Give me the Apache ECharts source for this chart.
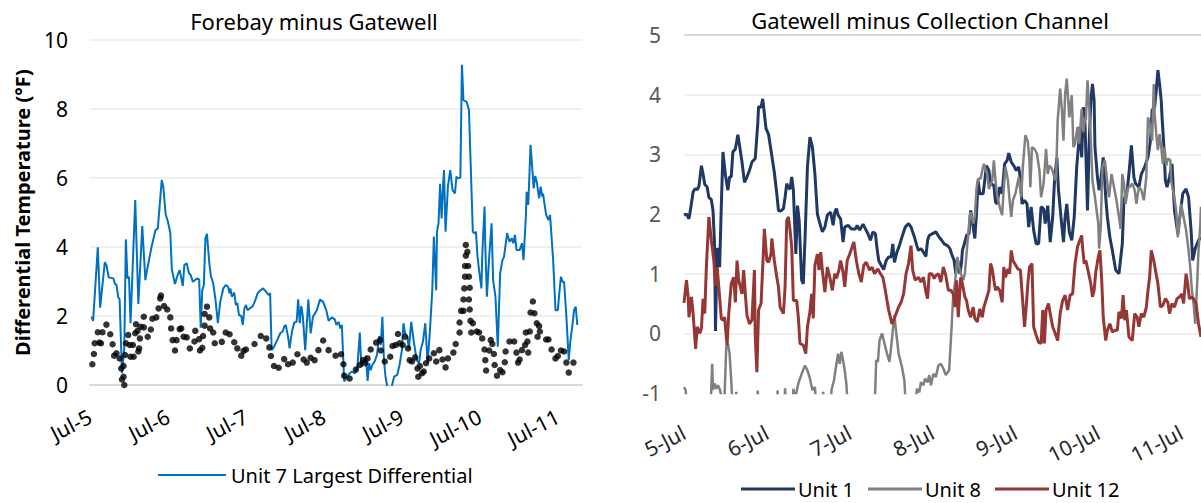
<!DOCTYPE html>
<html><head><meta charset="utf-8">
<script src="https://cdn.jsdelivr.net/npm/echarts@6/dist/echarts.min.js"></script>
<style>html,body{margin:0;padding:0;background:#fff}#c{width:1201px;height:503px}</style>
</head><body><div id="c"></div>
<script>
// ---- data (x = days since Jul-5 00:00, y = differential temperature °F) ----
const leftTickLabels = ['Jul-5','Jul-6','Jul-7','Jul-8','Jul-9','Jul-10','Jul-11'];
const rightTickLabels = ['5-Jul','6-Jul','7-Jul','8-Jul','9-Jul','10-Jul','11-Jul'];
const leftYTicks = [0, 2, 4, 6, 8, 10];
const rightYTicks = [-1, 0, 1, 2, 3, 4, 5];

const unit7Largest = [[0.02,1.98],[0.04,1.86],[0.10,3.99],[0.13,2.24],[0.19,3.56],[0.21,3.48],[0.24,3.12],[0.30,3.09],[0.32,2.93],[0.34,2.90],[0.36,2.56],[0.38,2.48],[0.41,0.34],[0.44,1.11],[0.46,4.22],[0.48,3.09],[0.50,3.14],[0.52,1.79],[0.58,5.36],[0.62,2.35],[0.67,4.61],[0.71,3.04],[0.73,3.31],[0.79,4.01],[0.84,4.49],[0.87,4.54],[0.92,5.94],[0.94,5.75],[0.97,4.95],[1.00,4.73],[1.03,4.40],[1.05,3.35],[1.09,2.93],[1.12,3.16],[1.15,3.33],[1.19,2.87],[1.21,3.48],[1.24,3.53],[1.27,3.24],[1.29,3.19],[1.32,2.99],[1.37,3.09],[1.40,3.06],[1.42,1.66],[1.44,2.75],[1.46,2.90],[1.48,4.25],[1.50,4.38],[1.53,3.53],[1.55,3.16],[1.58,2.95],[1.61,2.46],[1.64,1.79],[1.67,2.41],[1.71,2.80],[1.74,2.90],[1.77,2.85],[1.79,2.66],[1.80,2.80],[1.82,2.56],[1.85,2.68],[1.87,2.32],[1.89,2.37],[1.91,2.03],[1.94,2.00],[1.96,1.74],[1.98,2.22],[2.00,2.32],[2.02,2.17],[2.05,2.22],[2.09,2.29],[2.12,2.46],[2.15,2.66],[2.18,2.73],[2.22,2.80],[2.26,2.70],[2.29,2.61],[2.31,2.66],[2.33,1.01],[2.36,1.11],[2.40,1.30],[2.44,1.50],[2.47,1.55],[2.49,1.69],[2.51,1.74],[2.54,1.40],[2.56,1.06],[2.59,1.55],[2.62,1.81],[2.65,1.83],[2.67,2.48],[2.69,1.79],[2.71,2.29],[2.73,1.98],[2.76,1.01],[2.80,2.48],[2.83,1.50],[2.86,1.98],[2.91,2.17],[2.95,2.48],[2.99,2.41],[3.03,2.17],[3.06,1.86],[3.10,1.96],[3.14,1.90],[3.16,1.74],[3.19,1.83],[3.21,1.64],[3.23,1.74],[3.26,0.10],[3.30,0.24],[3.33,0.34],[3.36,0.39],[3.40,0.34],[3.43,0.53],[3.46,1.52],[3.48,0.53],[3.51,0.72],[3.54,0.84],[3.56,0.12],[3.58,0.63],[3.60,0.43],[3.62,0.58],[3.65,0.68],[3.68,0.87],[3.71,1.42],[3.73,1.16],[3.75,1.98],[3.77,0.72],[3.79,0.24],[3.82,-0.14],[3.86,-0.14],[3.90,0.24],[3.94,0.29],[3.97,0.58],[4.00,1.01],[4.02,1.79],[4.04,1.50],[4.07,1.40],[4.09,1.06],[4.12,1.83],[4.15,1.30],[4.19,0.72],[4.22,0.63],[4.24,1.01],[4.27,1.26],[4.30,1.79],[4.33,0.63],[4.36,1.59],[4.39,2.75],[4.41,4.30],[4.44,2.75],[4.45,4.44],[4.47,4.69],[4.49,5.83],[4.51,4.83],[4.53,5.85],[4.54,6.23],[4.56,4.44],[4.59,5.75],[4.62,6.23],[4.65,5.65],[4.68,5.55],[4.70,6.04],[4.72,5.99],[4.75,6.01],[4.77,9.28],[4.79,8.26],[4.83,8.21],[4.86,7.97],[4.91,4.44],[4.93,4.40],[4.95,4.44],[4.97,3.72],[4.99,3.33],[5.02,2.80],[5.03,3.72],[5.06,5.17],[5.07,4.01],[5.09,2.56],[5.12,3.72],[5.15,4.69],[5.17,3.04],[5.20,2.56],[5.23,1.11],[5.26,3.24],[5.29,3.62],[5.31,3.72],[5.35,4.40],[5.38,4.15],[5.41,4.25],[5.43,4.11],[5.45,4.35],[5.47,3.91],[5.51,3.91],[5.54,4.11],[5.56,3.62],[5.59,4.88],[5.60,5.60],[5.62,5.22],[5.63,5.75],[5.65,6.96],[5.68,6.04],[5.69,5.70],[5.71,6.06],[5.73,5.89],[5.76,5.41],[5.78,5.75],[5.80,5.46],[5.81,5.55],[5.85,4.93],[5.88,4.78],[5.90,4.93],[5.94,3.62],[5.97,2.17],[6.00,2.17],[6.02,2.70],[6.04,3.14],[6.06,2.99],[6.08,2.99],[6.11,1.98],[6.14,0.72],[6.16,1.26],[6.19,1.79],[6.21,2.19],[6.23,2.27],[6.25,1.74]];

const otherUnitsDots = [[0.03,0.60],[0.05,0.90],[0.06,1.21],[0.10,1.53],[0.12,1.23],[0.14,1.21],[0.16,1.53],[0.21,1.75],[0.26,1.47],[0.29,1.18],[0.31,0.85],[0.34,0.92],[0.38,0.77],[0.40,0.48],[0.41,0.16],[0.43,0.24],[0.43,0.55],[0.44,0.0],[0.45,0.87],[0.46,1.21],[0.49,1.45],[0.51,1.16],[0.52,0.82],[0.55,1.16],[0.56,0.82],[0.58,1.50],[0.59,1.76],[0.61,1.57],[0.62,0.97],[0.63,1.06],[0.64,1.35],[0.65,1.69],[0.69,1.67],[0.69,1.98],[0.74,1.40],[0.78,1.61],[0.80,1.92],[0.85,1.96],[0.88,2.22],[0.90,2.51],[0.91,2.59],[0.95,2.29],[0.99,2.19],[1.03,1.96],[1.04,1.64],[1.06,1.30],[1.09,1.00],[1.11,1.30],[1.15,1.62],[1.17,1.64],[1.20,1.40],[1.24,1.38],[1.28,1.06],[1.34,1.26],[1.35,1.57],[1.40,1.33],[1.41,1.00],[1.44,1.08],[1.45,1.42],[1.47,1.72],[1.47,2.06],[1.50,2.27],[1.53,1.96],[1.54,1.64],[1.58,1.52],[1.60,1.21],[1.69,1.25],[1.74,1.52],[1.79,1.47],[1.85,1.24],[1.89,1.06],[1.94,0.85],[1.97,0.99],[2.00,1.03],[2.11,1.19],[2.19,1.42],[2.26,1.35],[2.30,1.09],[2.32,0.84],[2.36,0.55],[2.42,0.50],[2.49,0.75],[2.54,0.60],[2.60,0.65],[2.66,0.89],[2.74,0.74],[2.78,0.65],[2.83,0.79],[2.88,0.72],[2.93,1.01],[2.99,1.29],[3.06,1.01],[3.15,0.85],[3.22,0.89],[3.25,0.60],[3.26,0.27],[3.33,0.19],[3.41,0.45],[3.46,0.58],[3.50,0.72],[3.53,0.63],[3.56,0.77],[3.60,1.03],[3.67,1.23],[3.72,1.30],[3.73,1.00],[3.78,0.68],[3.85,0.82],[3.88,1.13],[3.92,1.16],[3.95,1.48],[3.97,1.21],[4.01,1.16],[4.04,1.40],[4.08,1.06],[4.10,0.72],[4.13,0.68],[4.17,0.80],[4.20,0.48],[4.21,0.24],[4.23,0.55],[4.26,0.34],[4.28,0.39],[4.31,0.63],[4.35,0.77],[4.41,0.92],[4.44,0.68],[4.48,1.01],[4.52,0.74],[4.56,0.51],[4.59,0.77],[4.66,0.94],[4.69,1.19],[4.74,1.52],[4.74,1.81],[4.76,2.15],[4.79,2.15],[4.79,2.48],[4.80,2.80],[4.81,3.14],[4.81,3.45],[4.82,3.75],[4.82,4.06],[4.84,3.86],[4.85,3.45],[4.86,3.14],[4.87,2.82],[4.86,2.48],[4.87,2.19],[4.88,1.86],[4.89,1.52],[4.91,1.79],[4.96,1.55],[4.99,1.52],[5.03,1.35],[5.06,1.03],[5.07,0.72],[5.08,0.42],[5.12,1.00],[5.14,1.30],[5.16,1.19],[5.18,0.90],[5.19,0.58],[5.22,0.27],[5.26,0.43],[5.29,0.37],[5.32,0.66],[5.33,0.97],[5.38,1.26],[5.44,1.26],[5.47,0.94],[5.49,0.65],[5.51,0.74],[5.54,1.01],[5.58,1.16],[5.59,1.52],[5.61,1.26],[5.62,0.94],[5.64,1.55],[5.65,2.10],[5.68,2.42],[5.70,2.08],[5.73,1.79],[5.74,1.40],[5.76,1.71],[5.77,1.55],[5.85,1.32],[5.88,1.32],[5.92,1.03],[5.97,0.77],[6.00,0.84],[6.04,1.00],[6.08,0.97],[6.11,0.65],[6.14,0.36],[6.20,0.65]];

const unit1 = [[0,1.98],[0.03,2.0],[0.06,1.92],[0.08,2.09],[0.11,2.37],[0.13,2.42],[0.16,2.41],[0.18,2.46],[0.21,2.81],[0.23,2.67],[0.25,2.50],[0.28,2.45],[0.30,2.28],[0.33,2.24],[0.35,2.06],[0.37,1.45],[0.38,0.04],[0.40,1.42],[0.42,1.39],[0.43,1.11],[0.45,2.12],[0.47,3.04],[0.50,2.65],[0.53,2.40],[0.55,2.62],[0.57,2.62],[0.59,3.04],[0.62,3.09],[0.65,3.33],[0.67,3.15],[0.70,2.87],[0.73,2.53],[0.76,2.62],[0.79,2.73],[0.82,2.87],[0.86,2.93],[0.89,3.51],[0.90,3.80],[0.93,3.79],[0.95,3.93],[0.97,3.68],[0.99,3.43],[1.02,3.34],[1.05,3.07],[1.09,2.70],[1.12,2.34],[1.14,2.06],[1.17,2.05],[1.20,2.09],[1.22,2.28],[1.24,2.51],[1.26,2.44],[1.28,2.42],[1.30,2.62],[1.32,2.40],[1.35,1.33],[1.37,2.14],[1.39,1.89],[1.42,0.89],[1.44,0.83],[1.46,1.56],[1.49,2.79],[1.52,3.29],[1.55,3.12],[1.58,2.67],[1.61,2.00],[1.64,1.84],[1.67,1.70],[1.70,1.78],[1.73,1.98],[1.77,2.03],[1.80,1.81],[1.82,2.03],[1.84,2.09],[1.86,1.98],[1.89,1.92],[1.92,1.53],[1.94,1.78],[1.98,1.81],[2.02,1.75],[2.07,1.75],[2.09,1.81],[2.12,1.73],[2.16,1.83],[2.19,1.75],[2.22,1.67],[2.25,1.56],[2.28,1.70],[2.31,1.67],[2.33,1.42],[2.35,1.22],[2.38,1.14],[2.41,1.07],[2.44,1.22],[2.47,1.28],[2.50,1.28],[2.52,1.50],[2.54,1.19],[2.57,1.36],[2.60,1.47],[2.63,1.61],[2.67,1.78],[2.71,1.84],[2.74,1.78],[2.78,1.62],[2.81,1.47],[2.83,1.39],[2.86,1.42],[2.89,1.36],[2.92,1.29],[2.94,1.56],[2.96,1.64],[3.00,1.67],[3.04,1.70],[3.08,1.61],[3.11,1.56],[3.14,1.50],[3.18,1.47],[3.21,1.42],[3.23,1.33],[3.26,1.22],[3.28,1.00],[3.30,1.25],[3.33,1.00],[3.35,1.19],[3.36,1.39],[3.39,1.53],[3.41,1.64],[3.44,1.67],[3.46,2.06],[3.48,1.89],[3.49,1.78],[3.51,1.59],[3.53,2.00],[3.55,2.56],[3.57,2.34],[3.61,2.34],[3.63,2.56],[3.65,2.81],[3.68,2.73],[3.70,2.51],[3.74,2.48],[3.76,2.20],[3.78,2.17],[3.81,2.45],[3.84,2.34],[3.87,2.84],[3.90,2.90],[3.92,3.02],[3.95,2.87],[3.98,2.81],[4.01,2.73],[4.04,2.79],[4.06,2.59],[4.08,2.17],[4.11,2.23],[4.14,2.17],[4.16,1.78],[4.19,2.12],[4.22,1.73],[4.25,1.50],[4.28,1.50],[4.31,2.12],[4.34,2.09],[4.36,1.84],[4.39,2.14],[4.42,1.53],[4.45,1.95],[4.47,2.51],[4.50,2.95],[4.52,2.40],[4.55,1.95],[4.58,1.53],[4.60,1.95],[4.62,2.17],[4.65,1.70],[4.68,1.56],[4.71,1.95],[4.74,2.79],[4.76,3.12],[4.78,3.46],[4.80,2.95],[4.82,3.79],[4.84,3.51],[4.87,2.06],[4.89,3.18],[4.91,3.90],[4.93,4.18],[4.95,3.90],[4.96,3.12],[4.99,2.62],[5.01,2.40],[5.03,2.56],[5.06,2.95],[5.09,2.28],[5.11,1.95],[5.14,1.61],[5.17,1.39],[5.21,1.06],[5.25,1.00],[5.29,1.50],[5.31,2.23],[5.35,2.40],[5.37,2.67],[5.40,3.15],[5.43,2.62],[5.45,2.51],[5.49,2.45],[5.52,2.67],[5.56,2.79],[5.60,2.95],[5.63,3.23],[5.65,3.74],[5.68,3.79],[5.70,4.07],[5.72,4.41],[5.74,4.18],[5.76,3.90],[5.77,3.62],[5.79,3.18],[5.81,2.56],[5.83,2.45],[5.86,2.62],[5.89,2.84],[5.92,2.06],[5.96,1.67],[6.00,2.12],[6.02,2.34],[6.06,2.42],[6.09,2.28],[6.12,1.73],[6.14,1.22],[6.17,1.42],[6.21,1.56],[6.24,1.61]];

const unit8 = [[0,-0.90],[0.02,-0.95],[0.04,-1.3],[0.32,-1.3],[0.34,-0.51],[0.35,-0.95],[0.37,-0.84],[0.39,-0.93],[0.41,-0.87],[0.43,-0.93],[0.45,-1.04],[0.49,-1.04],[0.51,-0.23],[0.53,-0.17],[0.55,-0.34],[0.57,-0.79],[0.59,-1.3],[0.62,-1.3],[0.63,-0.98],[0.64,-1.3],[0.88,-1.3],[0.89,-0.96],[0.90,-1.3],[1.12,-1.3],[1.13,-0.96],[1.14,-1.3],[1.21,-1.3],[1.22,-0.92],[1.23,-1.3],[1.31,-1.3],[1.32,-0.93],[1.34,-1.1],[1.38,-0.84],[1.42,-0.68],[1.46,-0.54],[1.49,-0.62],[1.52,-0.76],[1.55,-0.95],[1.58,-0.90],[1.60,-1.3],[1.67,-1.3],[1.68,-0.98],[1.70,-1.3],[1.77,-1.3],[1.78,-0.95],[1.81,-0.79],[1.84,-0.51],[1.86,-0.34],[1.88,-0.51],[1.90,-0.31],[1.92,-0.45],[1.94,-0.62],[1.96,-0.85],[1.98,-1.3],[2.30,-1.3],[2.32,-0.45],[2.34,-0.48],[2.36,-0.12],[2.39,0.0],[2.42,-0.17],[2.45,-0.34],[2.48,-0.48],[2.50,-0.23],[2.52,0.05],[2.54,0.30],[2.55,0.16],[2.59,-0.34],[2.63,-0.56],[2.66,-0.79],[2.68,-1.3],[2.79,-1.3],[2.81,-0.93],[2.84,-0.99],[2.86,-0.82],[2.89,-0.87],[2.91,-0.76],[2.94,-0.82],[2.96,-0.70],[2.98,-0.87],[3.01,-0.68],[3.04,-0.73],[3.07,-0.54],[3.10,-0.51],[3.13,-0.59],[3.16,-0.70],[3.20,-0.62],[3.23,0.11],[3.25,0.66],[3.27,0.83],[3.30,1.28],[3.32,1.11],[3.34,1.00],[3.37,0.89],[3.39,1.00],[3.41,1.33],[3.45,1.98],[3.46,2.03],[3.49,1.84],[3.51,1.95],[3.53,2.42],[3.55,2.59],[3.58,2.59],[3.61,2.79],[3.62,2.84],[3.66,2.67],[3.68,2.42],[3.72,2.56],[3.74,2.90],[3.76,2.56],[3.78,2.31],[3.81,2.12],[3.84,1.98],[3.86,2.45],[3.88,2.79],[3.91,2.56],[3.93,2.23],[3.95,1.95],[3.97,2.23],[4.00,2.34],[4.04,2.62],[4.07,2.28],[4.09,2.79],[4.12,3.32],[4.15,3.21],[4.17,2.90],[4.18,2.45],[4.20,3.12],[4.23,3.09],[4.26,3.01],[4.29,2.73],[4.31,2.28],[4.34,2.51],[4.37,3.09],[4.39,2.67],[4.41,2.81],[4.44,2.76],[4.47,2.62],[4.49,2.56],[4.51,3.57],[4.54,4.10],[4.56,3.76],[4.58,3.23],[4.60,4.01],[4.62,4.27],[4.65,3.62],[4.68,3.99],[4.70,3.12],[4.72,3.18],[4.75,3.46],[4.77,3.18],[4.80,3.76],[4.82,3.37],[4.84,3.62],[4.85,3.57],[4.87,4.24],[4.90,3.57],[4.93,2.56],[4.96,2.28],[5.00,1.84],[5.01,1.42],[5.03,1.78],[5.05,2.79],[5.08,2.90],[5.11,2.51],[5.13,2.28],[5.16,2.67],[5.19,2.45],[5.22,2.23],[5.25,1.95],[5.27,1.75],[5.29,2.67],[5.31,2.51],[5.33,2.17],[5.36,2.45],[5.38,2.45],[5.41,2.51],[5.44,2.40],[5.46,2.17],[5.49,2.45],[5.52,2.40],[5.55,2.23],[5.58,2.62],[5.60,3.62],[5.63,3.46],[5.65,3.23],[5.67,4.18],[5.68,3.68],[5.70,3.34],[5.72,3.07],[5.74,3.34],[5.76,3.12],[5.78,2.84],[5.80,3.12],[5.82,2.81],[5.84,2.93],[5.87,2.90],[5.88,2.56],[5.91,2.34],[5.94,2.06],[5.96,1.61],[5.98,1.84],[6.00,2.17],[6.03,1.95],[6.06,1.73],[6.09,1.39],[6.11,1.11],[6.13,0.72],[6.15,0.50],[6.17,0.16],[6.19,0.72],[6.21,1.39],[6.23,1.78],[6.24,2.12]];

const unit12 = [[0,0.51],[0.03,0.89],[0.05,0.61],[0.06,0.27],[0.09,0.61],[0.11,0.33],[0.14,-0.26],[0.16,0.11],[0.19,0.0],[0.21,0.08],[0.23,0.58],[0.25,0.33],[0.27,1.11],[0.30,1.95],[0.33,1.56],[0.36,1.22],[0.38,0.80],[0.40,1.11],[0.43,0.61],[0.45,0.25],[0.47,0.22],[0.49,0.27],[0.52,-0.20],[0.54,0.33],[0.57,0.83],[0.60,0.94],[0.62,0.52],[0.64,1.22],[0.66,0.89],[0.68,0.78],[0.70,0.66],[0.72,1.06],[0.74,0.66],[0.76,0.30],[0.79,0.16],[0.82,0.22],[0.85,1.06],[0.86,-0.06],[0.88,-0.65],[0.90,0.39],[0.93,0.50],[0.95,1.11],[0.97,1.75],[1.00,1.22],[1.02,1.19],[1.05,1.33],[1.06,1.59],[1.09,1.22],[1.12,0.94],[1.14,0.78],[1.16,0.44],[1.20,0.33],[1.22,0.78],[1.24,1.89],[1.26,1.95],[1.28,1.73],[1.30,1.45],[1.32,0.55],[1.36,0.55],[1.38,0.27],[1.40,-0.17],[1.44,-0.20],[1.47,-0.34],[1.49,0.11],[1.52,0.36],[1.54,0.66],[1.56,0.25],[1.58,1.14],[1.61,1.33],[1.63,1.06],[1.65,1.36],[1.67,1.06],[1.70,0.69],[1.73,1.11],[1.76,0.94],[1.79,0.72],[1.82,1.00],[1.84,0.92],[1.87,1.06],[1.89,1.22],[1.92,1.03],[1.94,0.78],[1.97,1.22],[2.00,1.33],[2.05,1.53],[2.08,1.22],[2.11,1.00],[2.14,0.86],[2.17,1.14],[2.20,1.19],[2.24,1.06],[2.27,1.11],[2.30,1.00],[2.34,1.08],[2.37,1.00],[2.40,0.94],[2.43,0.72],[2.45,0.55],[2.47,0.39],[2.51,0.16],[2.53,0.22],[2.56,0.33],[2.59,0.44],[2.62,0.52],[2.65,0.66],[2.68,1.00],[2.71,1.17],[2.74,1.47],[2.76,1.06],[2.79,0.89],[2.83,0.94],[2.86,0.86],[2.89,0.94],[2.92,0.69],[2.94,0.58],[2.96,1.00],[2.99,1.00],[3.02,0.92],[3.04,0.97],[3.07,1.00],[3.10,0.86],[3.13,1.11],[3.16,0.97],[3.19,0.72],[3.22,0.72],[3.25,0.66],[3.27,0.44],[3.29,0.89],[3.31,0.27],[3.34,0.94],[3.36,0.83],[3.39,0.61],[3.41,0.55],[3.43,0.39],[3.46,0.27],[3.49,0.44],[3.51,0.25],[3.54,0.19],[3.57,0.41],[3.60,0.27],[3.62,0.44],[3.65,0.58],[3.68,0.72],[3.70,1.17],[3.72,1.08],[3.74,0.89],[3.76,0.72],[3.78,0.78],[3.81,0.72],[3.84,0.52],[3.86,1.11],[3.88,0.94],[3.91,1.08],[3.93,1.00],[3.95,1.39],[3.97,1.22],[4.00,1.15],[4.03,1.08],[4.06,1.06],[4.09,0.50],[4.11,0.11],[4.13,0.44],[4.15,0.83],[4.17,1.11],[4.20,1.17],[4.22,0.11],[4.25,-0.03],[4.28,-0.15],[4.31,-0.17],[4.33,0.39],[4.35,-0.17],[4.37,0.39],[4.40,0.50],[4.42,0.33],[4.45,0.11],[4.48,0.0],[4.51,-0.12],[4.54,0.33],[4.57,0.55],[4.60,0.64],[4.63,0.39],[4.66,0.64],[4.69,0.66],[4.72,1.17],[4.75,1.45],[4.77,1.53],[4.80,1.64],[4.81,1.45],[4.83,1.17],[4.85,1.22],[4.88,1.03],[4.91,0.83],[4.93,0.61],[4.95,0.72],[4.97,1.03],[5.00,1.28],[5.02,1.39],[5.04,0.94],[5.06,0.27],[5.09,-0.12],[5.11,0.05],[5.14,0.16],[5.17,0.02],[5.20,0.05],[5.23,0.05],[5.25,0.36],[5.28,0.25],[5.30,0.64],[5.32,0.22],[5.34,0.39],[5.37,-0.06],[5.41,-0.12],[5.44,0.33],[5.47,0.27],[5.49,0.11],[5.52,0.33],[5.55,0.27],[5.58,0.44],[5.60,0.72],[5.62,0.94],[5.64,1.39],[5.67,1.22],[5.69,1.06],[5.72,0.83],[5.75,0.44],[5.78,0.47],[5.81,0.58],[5.84,0.52],[5.86,0.33],[5.89,0.50],[5.92,0.44],[5.95,0.58],[5.98,0.61],[6.01,0.66],[6.03,0.50],[6.06,1.00],[6.08,0.83],[6.10,0.58],[6.13,0.61],[6.15,0.58],[6.18,0.50],[6.21,0.16],[6.24,-0.06]];

// ---- chart ----
const FONT = 'Noto Sans';
const chart = echarts.init(document.getElementById('c'), null, {renderer: 'svg'});
const lblFmt = labels => v => (Math.abs(v - Math.round(v)) < 1e-6 && labels[Math.round(v)] !== undefined) ? labels[Math.round(v)] : '';

chart.setOption({
  animation: false,
  backgroundColor: '#ffffff',
  textStyle: {fontFamily: FONT},
  graphic: [
    {type: 'text', x: 314, y: 21, style: {text: 'Forebay minus Gatewell', fill: '#000', font: '22px "Noto Sans"', textAlign: 'center', textVerticalAlign: 'middle'}},
    {type: 'text', x: 930, y: 20, style: {text: 'Gatewell minus Collection Channel', fill: '#000', font: '22px "Noto Sans"', textAlign: 'center', textVerticalAlign: 'middle'}}
  ],
  legend: [
    {left: 153, top: 460, data: ['Unit 7 Largest Differential'], icon: 'rect', itemWidth: 68, itemHeight: 2, itemGap: 10,
     textStyle: {fontSize: 20, color: '#000', fontFamily: FONT}},
    {left: 736, top: 474, data: ['Unit 1', 'Unit 8', 'Unit 12'], icon: 'rect', itemWidth: 54, itemHeight: 3, itemGap: 14,
     textStyle: {fontSize: 20, color: '#000', fontFamily: FONT, padding: [0, 0, 0, -2]}}
  ],
  grid: [
    {left: 90, right: 619, top: 40, bottom: 118},
    {left: 684, right: 0, top: 35, bottom: 110}
  ],
  xAxis: [
    {gridIndex: 0, type: 'value', min: 0, max: 6.31, interval: 1,
     axisLine: {show: true, lineStyle: {color: '#D9D9D9', width: 2}}, axisTick: {show: false}, splitLine: {show: false},
     axisLabel: {formatter: lblFmt(leftTickLabels), rotate: 27, margin: 30, color: '#000', fontSize: 21, fontFamily: FONT, showMaxLabel: false}},
    {gridIndex: 1, type: 'value', min: 0, max: 6.24, interval: 1,
     axisLine: {show: false}, axisTick: {show: false}, splitLine: {show: false},
     axisLabel: {formatter: lblFmt(rightTickLabels), rotate: 27, margin: 38, color: '#262626', fontSize: 21, fontFamily: FONT, showMaxLabel: false}}
  ],
  yAxis: [
    {gridIndex: 0, type: 'value', min: leftYTicks[0], max: leftYTicks[leftYTicks.length - 1], interval: 2,
     name: 'Differential Temperature (°F)', nameLocation: 'middle', nameGap: 58, nameRotate: 90,
     nameTextStyle: {fontSize: 20, fontWeight: 'bold', color: '#000', fontFamily: FONT},
     axisLine: {show: false}, axisTick: {show: false},
     splitLine: {show: true, lineStyle: {color: ['transparent', '#F0F0F0', '#F0F0F0', '#F0F0F0', '#F0F0F0', '#F0F0F0'], width: 2}},
     axisLabel: {color: '#000', fontSize: 21, margin: 22, fontFamily: FONT}},
    {gridIndex: 1, type: 'value', min: rightYTicks[0], max: rightYTicks[rightYTicks.length - 1], interval: 1,
     axisLine: {show: false}, axisTick: {show: false},
     splitLine: {show: true, lineStyle: {color: ['transparent', '#F0F0F0', '#F0F0F0', '#F0F0F0', '#F0F0F0', '#F0F0F0', '#D9D9D9'], width: 2}},
     axisLabel: {color: '#595959', fontSize: 21, margin: 23, fontFamily: FONT}}
  ],
  series: [
    {name: 'Unit 7 Largest Differential', type: 'line', xAxisIndex: 0, yAxisIndex: 0, data: unit7Largest,
     showSymbol: false, symbol: 'none', clip: true, lineStyle: {color: '#0070C0', width: 2}, itemStyle: {color: '#0070C0'}, z: 2},
    {name: 'Other units', type: 'scatter', xAxisIndex: 0, yAxisIndex: 0, data: otherUnitsDots,
     symbol: 'circle', symbolSize: 6.5, itemStyle: {color: '#000'}, clip: true, z: 3},
    {name: 'Unit 1', type: 'line', xAxisIndex: 1, yAxisIndex: 1, data: unit1,
     showSymbol: false, symbol: 'none', clip: true, lineStyle: {color: '#1F3864', width: 3}, itemStyle: {color: '#1F3864'}},
    {name: 'Unit 8', type: 'line', xAxisIndex: 1, yAxisIndex: 1, data: unit8,
     showSymbol: false, symbol: 'none', clip: true, lineStyle: {color: '#808080', width: 2.5}, itemStyle: {color: '#808080'}},
    {name: 'Unit 12', type: 'line', xAxisIndex: 1, yAxisIndex: 1, data: unit12,
     showSymbol: false, symbol: 'none', clip: true, lineStyle: {color: '#953735', width: 3}, itemStyle: {color: '#953735'}}
  ]
});
</script>
</body></html>
